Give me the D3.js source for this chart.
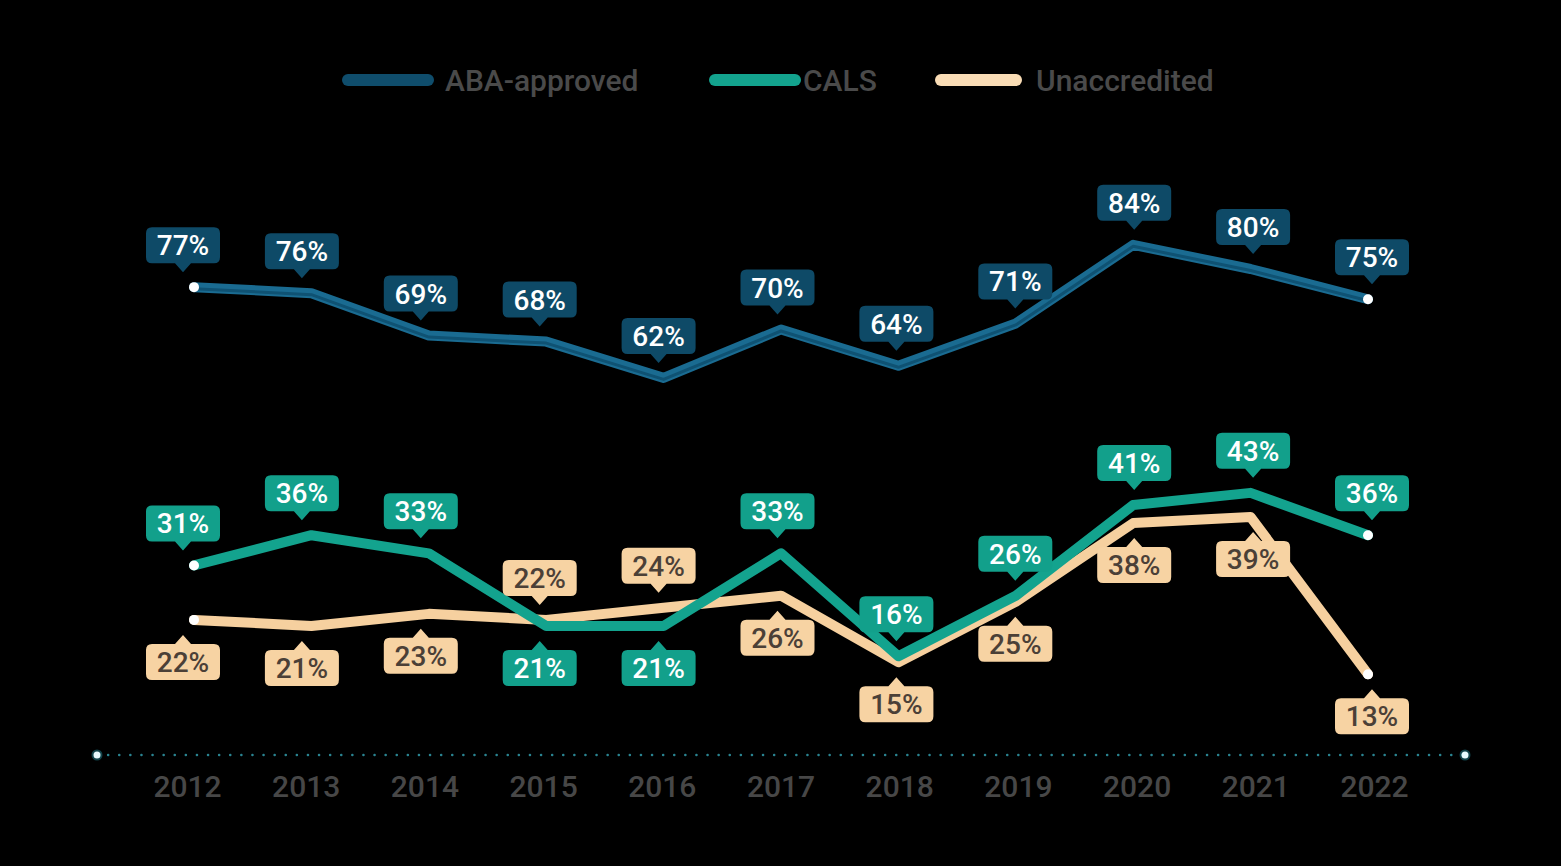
<!DOCTYPE html>
<html>
<head>
<meta charset="utf-8">
<script src="https://cdn.jsdelivr.net/npm/d3@7"></script>
<style>
  html, body { margin: 0; padding: 0; background: #000; }
  svg { display: block; font-family: Roboto, "Noto Sans", sans-serif; }
</style>
</head>
<body>
<svg id="chart" width="1561" height="866"></svg>
<script>
// ---- data ----
const years = ["2012","2013","2014","2015","2016","2017","2018","2019","2020","2021","2022"];
const abaApproved = [77,76,69,68,62,70,64,71,84,80,75];
const cals = [31,36,33,21,21,33,16,26,41,43,36];
const unaccredited = [22,21,23,22,24,26,15,25,38,39,13];
const seriesNames = ["ABA-approved","CALS","Unaccredited"];
// label side per point: 1 = above, -1 = below
const abaSide = [1,1,1,1,1,1,1,1,1,1,1];
const calsSide = [1,1,1,-1,-1,1,1,1,1,1,1];
const unaccSide = [-1,-1,-1,1,1,-1,-1,-1,-1,-1,-1];

const W = 1561, H = 866;
const svg = d3.select("#chart");
svg.append("rect").attr("width", W).attr("height", H).attr("fill", "#000");

const x = d3.scalePoint().domain(years).range([194, 1368]);
const xLab = d3.scalePoint().domain(years).range([183, 1372]);
const xTick = d3.scalePoint().domain(years).range([187, 1374]);
const y = d3.scaleLinear().domain([0, 100]).range([753, 148]);

const series = [
  { name: seriesNames[0], values: abaApproved, side: abaSide, color: "#1a6b91", inner: "#0f5273", box: "#0e4a67", text: "#ffffff", legend: "#0f4d6c" },
  { name: seriesNames[1], values: cals, side: calsSide, color: "#13a38e", inner: null, box: "#12a08b", text: "#ffffff", legend: "#13a38e" },
  { name: seriesNames[2], values: unaccredited, side: unaccSide, color: "#f6d09f", inner: null, box: "#f7d3a3", text: "#4b4037", legend: "#f9dcb5" }
];

// ---- axis (dotted) ----
const axisY = 755;
svg.append("line")
  .attr("x1", 97).attr("x2", 1465).attr("y1", axisY).attr("y2", axisY)
  .attr("stroke", "#2a8491").attr("stroke-width", 2.5)
  .attr("stroke-linecap", "round")
  .attr("stroke-dasharray", "0.1 11");
[97, 1465].forEach(cx => {
  svg.append("circle").attr("cx", cx).attr("cy", axisY).attr("r", 5.5).attr("fill", "#1c6f7c").attr("opacity", 0.6);
  svg.append("circle").attr("cx", cx).attr("cy", axisY).attr("r", 3.5).attr("fill", "#e8fbff");
});

const xAxis = d3.axisBottom(xTick).tickSize(0).tickPadding(0);
const gx = svg.append("g").attr("transform", `translate(0, 797)`).call(xAxis);
gx.select(".domain").remove();
gx.selectAll("text")
  .attr("dy", 0)
  .attr("font-size", 30)
  .attr("font-weight", 500)
  .attr("font-family", "Roboto, sans-serif")
  .attr("fill", "#474747");

// ---- legend ----
const legendItems = [
  { sx: 348, ex: 428, tx: 445 },
  { sx: 715, ex: 795, tx: 803 },
  { sx: 941, ex: 1016, tx: 1036 }
];
series.forEach((s, i) => {
  const L = legendItems[i];
  svg.append("line").attr("x1", L.sx).attr("x2", L.ex).attr("y1", 80).attr("y2", 80)
    .attr("stroke", s.legend).attr("stroke-width", 12).attr("stroke-linecap", "round");
  svg.append("text").attr("x", L.tx).attr("y", 91).text(s.name)
    .attr("font-size", 30).attr("font-weight", 500).attr("fill", "#4a4a4a");
});

// ---- lines ----
const line = d3.line().x((d, i) => x(years[i])).y(d => y(d));
const gLines = svg.append("g");
[2, 1, 0].forEach(k => {
  const s = series[k];
  gLines.append("path").datum(s.values).attr("d", line)
    .attr("fill", "none").attr("stroke", s.color).attr("stroke-width", 10)
    .attr("stroke-linejoin", "round").attr("stroke-linecap", "round");
  if (s.inner) {
    gLines.append("path").datum(s.values).attr("d", line)
      .attr("transform", "translate(0,1.5)")
      .attr("fill", "none").attr("stroke", s.inner).attr("stroke-width", 3)
      .attr("stroke-linejoin", "round").attr("stroke-linecap", "round");
  }
  [0, s.values.length - 1].forEach(i => {
    gLines.append("circle").attr("cx", x(years[i])).attr("cy", y(s.values[i]))
      .attr("r", 5).attr("fill", "#ffffff");
  });
});

// ---- labels ----
const boxW = 74, boxH = 36, ptrH = 9, ptrW = 16, gap = 15, rad = 6;
function calloutPath(cx, tipY, side) {
  const d = side;
  const baseY = tipY - d * ptrH;
  const farY = baseY - d * boxH;
  const l = cx - boxW / 2, r = cx + boxW / 2;
  const p = d3.path();
  p.moveTo(cx, tipY);
  p.lineTo(cx + ptrW / 2, baseY);
  p.lineTo(r - rad, baseY);
  p.quadraticCurveTo(r, baseY, r, baseY - d * rad);
  p.lineTo(r, farY + d * rad);
  p.quadraticCurveTo(r, farY, r - rad, farY);
  p.lineTo(l + rad, farY);
  p.quadraticCurveTo(l, farY, l, farY + d * rad);
  p.lineTo(l, baseY - d * rad);
  p.quadraticCurveTo(l, baseY, l + rad, baseY);
  p.lineTo(cx - ptrW / 2, baseY);
  p.closePath();
  return p.toString();
}
const gLab = svg.append("g");
[2, 1, 0].forEach(k => {
  const s = series[k];
  s.values.forEach((v, i) => {
    const px = xLab(years[i]);
    const py = y(v);
    const side = s.side[i];
    const tipY = side === 1 ? py - gap : py + gap;
    gLab.append("path").attr("d", calloutPath(px, tipY, side)).attr("fill", s.box);
    const centerY = tipY - side * (ptrH + boxH / 2);
    gLab.append("text").attr("x", px).attr("y", centerY + 10)
      .attr("text-anchor", "middle").attr("font-size", 28).attr("font-weight", 500)
      .attr("fill", s.text).text(v + "%");
  });
});
</script>
</body>
</html>
